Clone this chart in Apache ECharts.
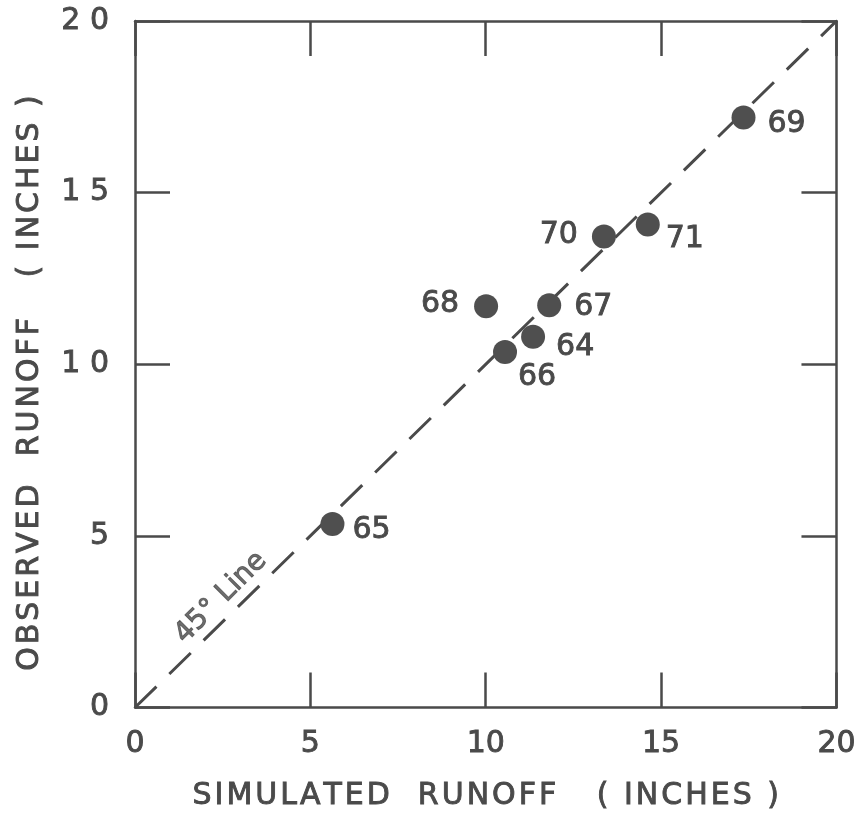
<!DOCTYPE html>
<html><head><meta charset="utf-8">
<script src="https://cdn.jsdelivr.net/npm/echarts@6/dist/echarts.min.js"></script>
<style>html,body{margin:0;padding:0;background:#fff}#c{width:859px;height:817px}</style>
</head><body><div id="c"></div>
<script>
const years = ['65','66','64','68','67','70','71','69'];
const simulated = [5.63, 10.55, 11.35, 10.01, 11.81, 13.37, 14.62, 17.35];
const observed = [5.35, 10.36, 10.80, 11.69, 11.72, 13.72, 14.07, 17.19];
const labelPos = ['right','bottom','right','left','right','left','right','right'];
const ticks = [0, 5, 10, 15, 20];
const lineEnds = [[0,0],[20,20]];
const lineLabelAt = [2.45, 3.2];
const lineLabelText = '45° Line';
const xTitle = 'SIMULATED  RUNOFF   ( INCHES )';
const yTitle = 'OBSERVED  RUNOFF   ( INCHES )   ';

const ink = '#4a4a4a';
const thick = {textBorderColor:ink,textBorderWidth:0.9};
const spaced = s => s.split('').join('\u200A');
const offs = {'65':[0,6],'66':[32,-10],'64':[3,10],'68':[-7,-2],'67':[5,2],'70':[-6,-1],'71':[-2,15],'69':[4,7]};
const pts = years.map((y,i)=>({
  value:[simulated[i], observed[i]], name:y,
  label:{position:labelPos[i], offset:offs[y]}
}));
const chart = echarts.init(document.getElementById('c'));
const axisCommon = {min:0,max:20,interval:5,
  axisLine:{show:true,onZero:false,lineStyle:{color:ink,width:2.5}},
  axisTick:{show:true,inside:true,length:35,lineStyle:{color:ink,width:2.5}},
  splitLine:{show:false}};
chart.setOption({
  animation:false,
  grid:{left:135,right:21,top:21,bottom:105},
  xAxis:[
    Object.assign({type:'value',position:'bottom',
      name:spaced(xTitle),nameLocation:'middle',nameGap:74,
      nameTextStyle:Object.assign({fontFamily:'DejaVu Sans',fontSize:30,color:ink},thick),
      axisLabel:Object.assign({margin:22,fontFamily:'DejaVu Sans',fontSize:30,color:ink,formatter:v=>ticks.includes(v)?String(v):''},thick)},axisCommon),
    Object.assign({type:'value',position:'top',axisLabel:{show:false}},axisCommon)
  ],
  yAxis:[
    Object.assign({type:'value',position:'left',
      name:spaced(yTitle),nameLocation:'middle',nameGap:90,
      nameTextStyle:Object.assign({fontFamily:'DejaVu Sans',fontSize:30,color:ink},thick),
      axisLabel:Object.assign({margin:26,fontFamily:'DejaVu Sans',fontSize:30,color:ink,formatter:v=>String(v).split('').join(' ')},thick)},axisCommon),
    Object.assign({type:'value',position:'right',axisLabel:{show:false}},axisCommon)
  ],
  series:[
    {type:'line',data:lineEnds,symbol:'none',silent:true,
      lineStyle:{color:ink,width:3,type:[30,18]},z:1},
    {type:'scatter',data:[lineLabelAt],symbolSize:0,silent:true,z:2,
      label:Object.assign({show:true,position:'inside',align:'center',verticalAlign:'middle',formatter:lineLabelText,rotate:45,fontFamily:'DejaVu Sans',fontSize:28,color:ink},thick)},
    {type:'scatter',data:pts,symbolSize:24,z:3,
      itemStyle:{color:'#4f4f4f',opacity:1},
      label:Object.assign({show:true,formatter:p=>p.name,fontFamily:'DejaVu Sans',fontSize:30,color:ink,distance:8},thick)},
    {type:'scatter',xAxisIndex:1,yAxisIndex:1,data:[],silent:true}
  ]
});
</script></body></html>
